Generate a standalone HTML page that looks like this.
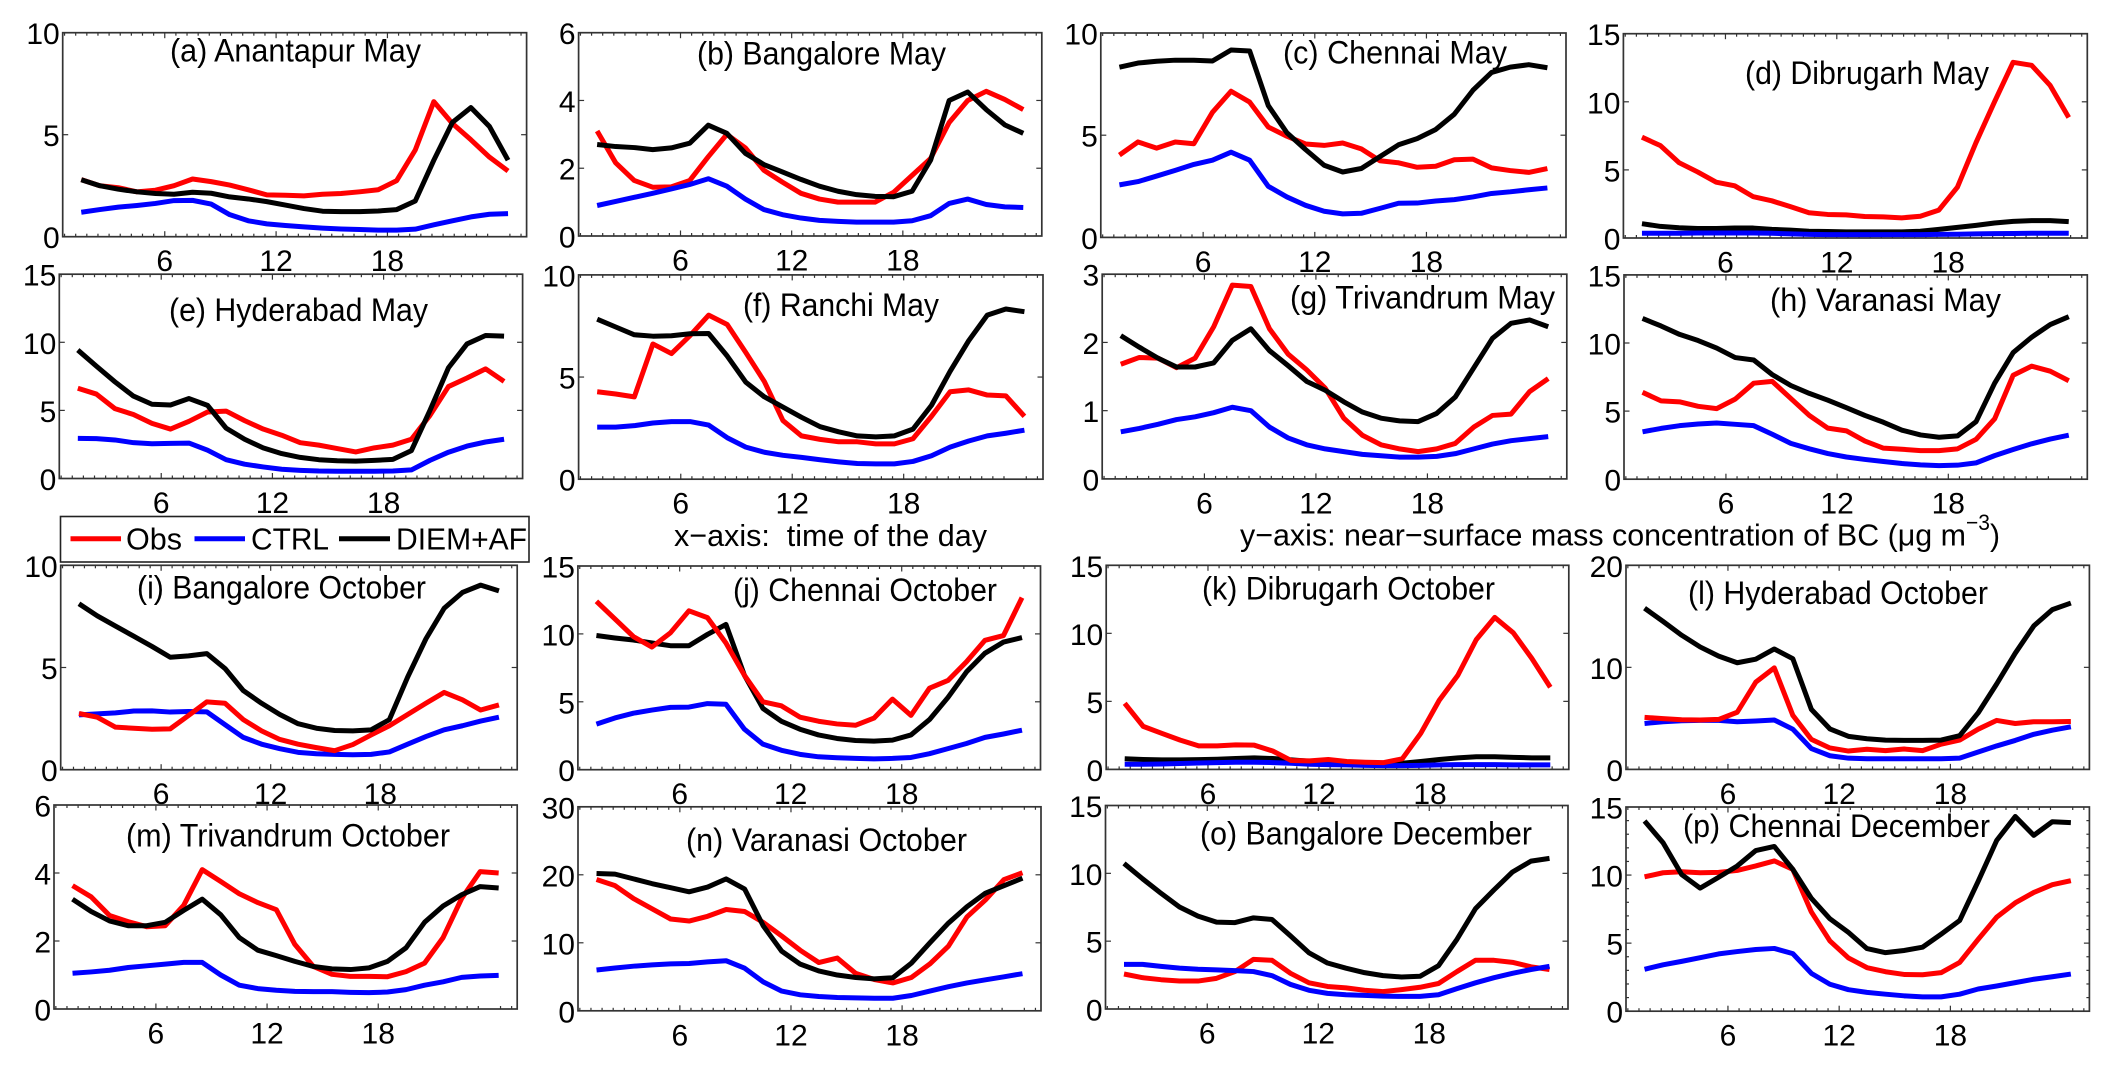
<!DOCTYPE html>
<html lang="en">
<head>
<meta charset="utf-8">
<title>Diurnal BC concentration panels</title>
<style>
html,body{margin:0;padding:0;background:#fff;width:2114px;height:1068px;overflow:hidden}
svg{display:block}
text{font-family:"Liberation Sans",Arial,sans-serif;fill:#000}
.ttl{font-size:32px}
.cap{font-size:31px;white-space:pre}
.tick{font-size:30px}
</style>
</head>
<body>
<svg id="fig" xmlns="http://www.w3.org/2000/svg" width="2114" height="1068" viewBox="0 0 2114 1068">
  <g id="marks"></g>

  <g>
    <text class="ttl" x="170" y="61.3" textLength="251" lengthAdjust="spacingAndGlyphs">(a) Anantapur May</text>
    <text class="ttl" x="697" y="64.7" textLength="249" lengthAdjust="spacingAndGlyphs">(b) Bangalore May</text>
    <text class="ttl" x="1283" y="63.4" textLength="224" lengthAdjust="spacingAndGlyphs">(c) Chennai May</text>
    <text class="ttl" x="1745" y="83.8" textLength="244" lengthAdjust="spacingAndGlyphs">(d) Dibrugarh May</text>
    <text class="ttl" x="169" y="320.8" textLength="259" lengthAdjust="spacingAndGlyphs">(e) Hyderabad May</text>
    <text class="ttl" x="743" y="316" textLength="196" lengthAdjust="spacingAndGlyphs">(f) Ranchi May</text>
    <text class="ttl" x="1290" y="308.6" textLength="265" lengthAdjust="spacingAndGlyphs">(g) Trivandrum May</text>
    <text class="ttl" x="1770" y="311" textLength="231" lengthAdjust="spacingAndGlyphs">(h) Varanasi May</text>
    <text class="ttl" x="137" y="598.7" textLength="289" lengthAdjust="spacingAndGlyphs">(i) Bangalore October</text>
    <text class="ttl" x="733" y="601" textLength="264" lengthAdjust="spacingAndGlyphs">(j) Chennai October</text>
    <text class="ttl" x="1202" y="599.7" textLength="293" lengthAdjust="spacingAndGlyphs">(k) Dibrugarh October</text>
    <text class="ttl" x="1688" y="603.8" textLength="300" lengthAdjust="spacingAndGlyphs">(l) Hyderabad October</text>
    <text class="ttl" x="126" y="846.3" textLength="324" lengthAdjust="spacingAndGlyphs">(m) Trivandrum October</text>
    <text class="ttl" x="686" y="850.8" textLength="281" lengthAdjust="spacingAndGlyphs">(n) Varanasi October</text>
    <text class="ttl" x="1200" y="844.6" textLength="332" lengthAdjust="spacingAndGlyphs">(o) Bangalore December</text>
    <text class="ttl" x="1683" y="837" textLength="307" lengthAdjust="spacingAndGlyphs">(p) Chennai December</text>
  </g>

  <g>
    <rect x="60.5" y="516.5" width="468.5" height="45.5" fill="#fff" stroke="#222" stroke-width="1.6"/>
    <line x1="70.5" x2="121" y1="538.7" y2="538.7" stroke="#ff0000" stroke-width="5"/>
    <text class="cap" x="126" y="549.3" textLength="56" lengthAdjust="spacingAndGlyphs">Obs</text>
    <line x1="194.5" x2="245" y1="538.7" y2="538.7" stroke="#0000ff" stroke-width="5"/>
    <text class="cap" x="251" y="549.3" textLength="78" lengthAdjust="spacingAndGlyphs">CTRL</text>
    <line x1="339" x2="390" y1="538.7" y2="538.7" stroke="#000000" stroke-width="5"/>
    <text class="cap" x="396" y="549.3" textLength="131" lengthAdjust="spacingAndGlyphs">DIEM+AF</text>
  </g>

  <text class="cap" x="674" y="546" textLength="313" lengthAdjust="spacingAndGlyphs">x−axis:  time of the day</text>
  <g>
    <text class="cap" x="1240" y="545.7" textLength="726" lengthAdjust="spacingAndGlyphs">y−axis: near−surface mass concentration of BC (μg m</text>
    <text x="1966" y="530" font-size="22" textLength="24" lengthAdjust="spacingAndGlyphs">−3</text>
    <text class="cap" x="1990" y="545.7" textLength="10" lengthAdjust="spacingAndGlyphs">)</text>
  </g>
</svg>

<script>
// ---- shared categories and tick labels ----
const hours = [1.5,2.5,3.5,4.5,5.5,6.5,7.5,8.5,9.5,10.5,11.5,12.5,13.5,14.5,15.5,16.5,17.5,18.5,19.5,20.5,21.5,22.5,23.5,24.5];
const xTickLabels = [6,12,18];

// ---- y tick labels per panel ----
const yTicksA = [0,5,10];
const yTicksB = [0,2,4,6];
const yTicksC = [0,5,10];
const yTicksD = [0,5,10,15];
const yTicksE = [0,5,10,15];
const yTicksF = [0,5,10];
const yTicksG = [0,1,2,3];
const yTicksH = [0,5,10,15];
const yTicksI = [0,5,10];
const yTicksJ = [0,5,10,15];
const yTicksK = [0,5,10,15];
const yTicksL = [0,10,20];
const yTicksM = [0,2,4,6];
const yTicksN = [0,10,20,30];
const yTicksO = [0,5,10,15];
const yTicksP = [0,5,10,15];

// ---- series values ----
const obsA = [2.8,2.5,2.4,2.2,2.28,2.5,2.83,2.7,2.53,2.3,2.05,2.03,2.0,2.08,2.12,2.2,2.3,2.75,4.25,6.62,5.55,4.75,3.9,3.22];
const ctrlA = [1.2,1.33,1.45,1.53,1.63,1.77,1.78,1.6,1.08,.78,.63,.55,.48,.42,.38,.35,.32,.32,.37,.58,.78,.97,1.1,1.13];
const diemA = [2.79,2.5,2.33,2.2,2.12,2.08,2.18,2.13,1.95,1.85,1.72,1.55,1.38,1.25,1.23,1.23,1.26,1.33,1.75,3.75,5.6,6.33,5.4,3.75];

const obsB = [3.1,2.16,1.64,1.44,1.45,1.64,2.34,3.0,2.6,1.94,1.59,1.26,1.09,1.0,1.0,1.0,1.29,1.79,2.29,3.35,4.0,4.27,4.03,3.73];
const ctrlB = [.9,1.02,1.14,1.26,1.39,1.52,1.69,1.47,1.09,.78,.63,.53,.46,.43,.41,.41,.41,.45,.6,.96,1.09,.93,.86,.84];
const diemB = [2.7,2.64,2.61,2.55,2.6,2.74,3.27,3.03,2.44,2.11,1.89,1.67,1.47,1.32,1.22,1.17,1.16,1.32,2.24,4.0,4.25,3.73,3.28,3.03];

const obsC = [4.03,4.67,4.37,4.67,4.58,6.12,7.15,6.62,5.4,4.95,4.57,4.5,4.62,4.33,3.75,3.65,3.43,3.48,3.8,3.83,3.4,3.27,3.18,3.37];
const ctrlC = [2.57,2.73,3.0,3.28,3.57,3.78,4.17,3.78,2.5,1.98,1.57,1.28,1.15,1.18,1.42,1.67,1.68,1.78,1.85,1.98,2.15,2.23,2.33,2.42];
const diemC = [8.33,8.53,8.62,8.67,8.67,8.63,9.17,9.12,6.45,5.12,4.3,3.53,3.2,3.37,3.95,4.53,4.83,5.28,6.03,7.2,8.07,8.33,8.45,8.3];

const obsD = [7.4,6.78,5.53,4.85,4.1,3.83,3.03,2.73,2.3,1.85,1.73,1.7,1.58,1.55,1.48,1.6,2.05,3.73,7,10,12.9,12.68,11.2,8.85];
const ctrlD = [.35,.35,.35,.37,.37,.37,.37,.35,.3,.27,.25,.25,.25,.25,.25,.25,.27,.28,.3,.32,.33,.35,.35,.35];
const diemD = [1.05,.85,.75,.7,.7,.73,.73,.63,.58,.5,.48,.45,.45,.45,.45,.5,.63,.78,.93,1.1,1.22,1.28,1.28,1.2];

const obsE = [6.63,6.2,5.13,4.7,4.05,3.63,4.2,4.88,4.95,4.25,3.63,3.18,2.63,2.45,2.2,1.95,2.25,2.45,2.88,4.63,6.75,7.38,8.05,7.13];
const ctrlE = [2.95,2.93,2.83,2.63,2.55,2.58,2.6,2.08,1.38,1.05,.85,.68,.6,.55,.53,.53,.53,.55,.63,1.33,1.93,2.38,2.68,2.88];
const diemE = [9.43,8.25,7.1,6.05,5.45,5.4,5.87,5.37,3.7,2.88,2.25,1.83,1.55,1.38,1.3,1.28,1.33,1.4,2.05,5.0,8.13,9.88,10.5,10.45];

const obsF = [4.28,4.17,4.03,6.62,6.15,7.03,8.03,7.57,6.2,4.78,2.87,2.12,1.95,1.83,1.83,1.73,1.73,1.98,3.08,4.28,4.37,4.12,4.08,3.08];
const ctrlF = [2.55,2.55,2.62,2.75,2.82,2.82,2.65,2.03,1.57,1.32,1.17,1.07,.95,.85,.77,.75,.75,.87,1.15,1.57,1.87,2.12,2.25,2.4];
const diemF = [7.83,7.45,7.07,7.0,7.02,7.12,7.13,6.03,4.75,4.03,3.53,3.03,2.57,2.32,2.12,2.07,2.12,2.45,3.62,5.28,6.78,8.03,8.33,8.2];

const obsG = [1.68,1.78,1.77,1.63,1.77,2.23,2.84,2.82,2.2,1.83,1.6,1.33,.89,.64,.5,.44,.4,.44,.52,.76,.93,.95,1.28,1.47];
const ctrlG = [.69,.74,.8,.87,.91,.97,1.05,1.0,.76,.6,.5,.44,.4,.36,.34,.32,.32,.33,.37,.44,.51,.56,.59,.62];
const diemG = [2.1,1.93,1.77,1.64,1.64,1.7,2.03,2.2,1.88,1.66,1.43,1.3,1.13,.98,.89,.85,.84,.96,1.2,1.63,2.06,2.28,2.33,2.23];

const obsH = [6.38,5.75,5.68,5.35,5.18,5.88,7.05,7.18,5.93,4.68,3.75,3.55,2.8,2.28,2.2,2.1,2.1,2.23,2.93,4.43,7.63,8.3,7.93,7.23];
const ctrlH = [3.48,3.73,3.93,4.05,4.13,4.03,3.93,3.3,2.63,2.23,1.88,1.63,1.45,1.3,1.15,1.05,1,1.03,1.2,1.73,2.18,2.6,2.95,3.23];
const diemH = [11.8,11.25,10.63,10.18,9.63,8.93,8.75,7.68,6.88,6.3,5.8,5.25,4.68,4.18,3.6,3.25,3.08,3.18,4.23,7.05,9.3,10.43,11.35,11.93];

const obsI = [2.75,2.57,2.08,2.03,1.98,2.0,2.65,3.32,3.25,2.45,1.9,1.48,1.25,1.08,.93,1.23,1.7,2.15,2.7,3.25,3.78,3.42,2.92,3.17];
const ctrlI = [2.68,2.73,2.78,2.87,2.88,2.82,2.85,2.83,2.2,1.58,1.25,1.03,.85,.78,.75,.73,.75,.87,1.25,1.62,1.95,2.15,2.38,2.57];
const diemI = [8.12,7.53,7.03,6.53,6.03,5.5,5.57,5.68,4.95,3.87,3.25,2.7,2.25,2.03,1.92,1.9,1.95,2.45,4.53,6.4,7.9,8.67,9.03,8.75];

const obsJ = [12.4,11.1,9.8,9.03,10.08,11.7,11.2,9.33,6.95,5.0,4.7,3.87,3.57,3.37,3.27,3.8,5.2,4.0,6.0,6.57,7.95,9.53,9.88,12.67];
const ctrlJ = [3.36,3.81,4.16,4.39,4.59,4.61,4.87,4.82,2.98,1.88,1.43,1.13,.95,.88,.83,.8,.83,.9,1.18,1.55,1.93,2.38,2.63,2.91];
const diemJ = [9.88,9.7,9.55,9.33,9.13,9.13,9.96,10.7,6.95,4.51,3.56,2.98,2.56,2.3,2.15,2.1,2.18,2.56,3.69,5.32,7.2,8.58,9.4,9.73];

const obsK = [4.86,3.16,2.65,2.15,1.73,1.73,1.8,1.78,1.35,.65,.63,.73,.58,.53,.5,.78,2.65,5.08,6.91,9.54,11.17,10.04,8.16,6.04];
const ctrlK = [.38,.38,.4,.43,.47,.5,.53,.53,.5,.45,.38,.35,.33,.3,.28,.28,.3,.33,.35,.35,.35,.33,.33,.33];
const diemK = [.78,.73,.7,.7,.72,.75,.8,.85,.8,.7,.6,.55,.5,.45,.4,.45,.58,.73,.85,.93,.93,.88,.85,.85];

const obsL = [5.1,4.97,4.87,4.84,4.9,5.6,8.55,9.95,5.3,2.94,2.1,1.8,1.97,1.84,2,1.84,2.47,2.87,3.94,4.8,4.5,4.67,4.67,4.7];
const ctrlL = [4.5,4.67,4.77,4.8,4.8,4.67,4.74,4.84,3.94,2.04,1.34,1.1,1.04,1.04,1.04,1.04,1.04,1.1,1.7,2.3,2.84,3.44,3.84,4.17];
const diemL = [15.8,14.5,13.15,12,11.1,10.45,10.8,11.8,10.85,5.88,3.97,3.24,3,2.87,2.84,2.84,2.87,3.3,5.54,8.38,11.39,14.06,15.66,16.3];

const obsM = [3.63,3.3,2.75,2.57,2.42,2.45,3.05,4.1,3.75,3.39,3.13,2.92,1.9,1.25,1.02,.96,.96,.95,1.1,1.35,2.1,3.25,4.04,4.0];
const ctrlM = [1.05,1.09,1.14,1.22,1.27,1.32,1.37,1.37,1.0,.7,.6,.55,.52,.51,.51,.49,.48,.5,.57,.7,.8,.93,.97,.99];
const diemM = [3.23,2.87,2.59,2.45,2.45,2.55,2.9,3.23,2.77,2.1,1.73,1.57,1.4,1.25,1.18,1.16,1.21,1.4,1.8,2.55,3.03,3.36,3.6,3.56];

const obsN = [19.3,18.4,16.5,15,13.5,13.2,13.9,14.9,14.6,13,11,8.9,7.1,7.76,5.5,4.6,4.1,4.9,6.9,9.5,13.8,16.3,19.3,20.3];
const ctrlN = [6,6.3,6.56,6.76,6.9,6.96,7.2,7.36,6.26,4.26,2.9,2.35,2.1,1.95,1.9,1.85,1.85,2.25,2.9,3.55,4.1,4.56,5,5.46];
const diemN = [20.2,20.1,19.4,18.7,18.1,17.5,18.2,19.4,17.9,12.5,8.76,6.86,5.86,5.26,4.9,4.7,4.86,7,10,12.9,15.3,17.3,18.4,19.5];

const obsO = [2.58,2.31,2.16,2.06,2.06,2.26,2.76,3.66,3.59,2.63,1.93,1.66,1.56,1.38,1.28,1.43,1.6,1.88,2.76,3.59,3.59,3.44,3.11,2.91];
const ctrlO = [3.29,3.29,3.14,3.01,2.93,2.88,2.83,2.76,2.46,1.81,1.38,1.15,1.05,1,.95,.93,.93,1.05,1.5,1.93,2.31,2.63,2.91,3.14];
const diemO = [10.73,9.6,8.53,7.52,6.85,6.4,6.37,6.72,6.6,5.39,4.14,3.39,3.01,2.68,2.46,2.36,2.41,3.19,5.14,7.4,8.78,10.1,10.9,11.1];

const obsP = [9.87,10.17,10.24,10.17,10.2,10.34,10.67,11.04,10.42,7.29,5.16,3.91,3.2,2.9,2.7,2.68,2.83,3.58,5.28,6.91,7.96,8.72,9.29,9.59];
const ctrlP = [3.08,3.41,3.66,3.93,4.21,4.38,4.53,4.61,4.23,2.78,1.98,1.58,1.38,1.25,1.13,1.05,1.05,1.25,1.63,1.85,2.1,2.35,2.53,2.73];
const diemP = [13.97,12.37,10.04,9.04,9.84,10.67,11.8,12.1,10.42,8.29,6.79,5.79,4.6,4.3,4.46,4.7,5.66,6.66,9.54,12.55,14.3,12.92,13.92,13.85];

// ---- panel wiring: each panel's frame rectangle plus references to its data ----
const standardOrder = ['obs','ctrl','diem'];
const obsOnTopOrder = ['diem','ctrl','obs'];
const ctrlUnderOrder = ['ctrl','obs','diem'];
const panels = [
  {id:'a',L:62.7,R:526.6,T:32.7,B:236.7,yt:yTicksA,obs:obsA,ctrl:ctrlA,diem:diemA,order:standardOrder},
  {id:'b',L:578.6,R:1041.8,T:32.7,B:236,yt:yTicksB,obs:obsB,ctrl:ctrlB,diem:diemB,order:standardOrder},
  {id:'c',L:1100.8,R:1566,T:33,B:237.4,yt:yTicksC,obs:obsC,ctrl:ctrlC,diem:diemC,order:standardOrder},
  {id:'d',L:1623.4,R:2087.3,T:33.7,B:238,yt:yTicksD,obs:obsD,ctrl:ctrlD,diem:diemD,order:obsOnTopOrder},
  {id:'e',L:59.3,R:522.6,T:274.2,B:478.5,yt:yTicksE,obs:obsE,ctrl:ctrlE,diem:diemE,order:standardOrder},
  {id:'f',L:578.6,R:1043,T:274.9,B:479.2,yt:yTicksF,obs:obsF,ctrl:ctrlF,diem:diemF,order:standardOrder},
  {id:'g',L:1102.2,R:1566.8,T:274.2,B:478.9,yt:yTicksG,obs:obsG,ctrl:ctrlG,diem:diemG,order:standardOrder},
  {id:'h',L:1624,R:2087.3,T:274.9,B:479.2,yt:yTicksH,obs:obsH,ctrl:ctrlH,diem:diemH,order:standardOrder},
  {id:'i',L:60.7,R:517.2,T:565.3,B:769.7,yt:yTicksI,obs:obsI,ctrl:ctrlI,diem:diemI,order:ctrlUnderOrder},
  {id:'j',L:577.9,R:1040.5,T:566,B:769.7,yt:yTicksJ,obs:obsJ,ctrl:ctrlJ,diem:diemJ,order:obsOnTopOrder},
  {id:'k',L:1106.2,R:1568.8,T:565.3,B:769.4,yt:yTicksK,obs:obsK,ctrl:ctrlK,diem:diemK,order:obsOnTopOrder},
  {id:'l',L:1626,R:2089.4,T:565.3,B:769.4,yt:yTicksL,obs:obsL,ctrl:ctrlL,diem:diemL,order:ctrlUnderOrder},
  {id:'m',L:54,R:517.2,T:805,B:1009,yt:yTicksM,obs:obsM,ctrl:ctrlM,diem:diemM,order:standardOrder},
  {id:'n',L:578,R:1041,T:806.8,B:1010.8,yt:yTicksN,obs:obsN,ctrl:ctrlN,diem:diemN,order:standardOrder},
  {id:'o',L:1105.5,R:1568,T:805.5,B:1009,yt:yTicksO,obs:obsO,ctrl:ctrlO,diem:diemO,order:standardOrder},
  {id:'p',L:1626,R:2089.4,T:807,B:1011.2,yt:yTicksP,obs:obsP,ctrl:ctrlP,diem:diemP,order:standardOrder,yMinorStep:1}
];

const seriesColor = {obs:'#ff0000',ctrl:'#0000ff',diem:'#000000'};
const xMin = 0.5, xMax = 25.5, xMinorStep = 0.6;
const NS = 'http://www.w3.org/2000/svg';
const root = document.getElementById('marks');

function make(tag, parent) {
  const el = document.createElementNS(NS, tag);
  parent.appendChild(el);
  return el;
}

function tickMark(parent, name, x1, y1, x2, y2) {
  const t = make('line', parent);
  t.setAttribute('x1', x1);
  t.setAttribute('y1', y1);
  t.setAttribute('x2', x2);
  t.setAttribute('y2', y2);
  t.setAttribute('stroke', '#333');
  t.setAttribute('stroke-width', '1.2');
  
  
}

function tickText(parent, name, x, y, anchor, label) {
  const t = make('text', parent);
  t.setAttribute('class', 'tick');
  t.setAttribute('x', x);
  t.setAttribute('y', y);
  t.setAttribute('text-anchor', anchor);
  t.textContent = label;
  
  
}

function drawPanel(p) {
  const yMax = p.yt[p.yt.length - 1];
  const sx = h => p.L + (h - xMin) / (xMax - xMin) * (p.R - p.L);
  const sy = v => p.B - v / yMax * (p.B - p.T);

  const g = make('g', root);
  
  

  const frame = make('rect', g);
  frame.setAttribute('x', p.L);
  frame.setAttribute('y', p.T);
  frame.setAttribute('width', p.R - p.L);
  frame.setAttribute('height', p.B - p.T);
  frame.setAttribute('fill', '#fff');
  frame.setAttribute('stroke', '#333');
  frame.setAttribute('stroke-width', '1.7');
  
  

  // x minor ticks on top and bottom edges
  const first = xTickLabels[0];
  for (let k = Math.ceil((xMin - first) / xMinorStep); first + k * xMinorStep < xMax; k++) {
    const h = first + k * xMinorStep;
    if (k % 10 === 0) continue;
    tickMark(g, 'x-minor-tick', sx(h), p.B, sx(h), p.B - 3);
    tickMark(g, 'x-minor-tick', sx(h), p.T, sx(h), p.T + 3);
  }
  // x major ticks + labels
  xTickLabels.forEach(h => {
    tickMark(g, 'x-tick', sx(h), p.B, sx(h), p.B - 5.5);
    tickMark(g, 'x-tick', sx(h), p.T, sx(h), p.T + 5.5);
    tickText(g, 'x-tick-label', sx(h), p.B + 34.5, 'middle', h);
  });
  // y major ticks + labels
  p.yt.forEach(v => {
    if (v > 0 && v < yMax) {
      tickMark(g, 'y-tick', p.L, sy(v), p.L + 5.5, sy(v));
      tickMark(g, 'y-tick', p.R, sy(v), p.R - 5.5, sy(v));
    }
    tickText(g, 'y-tick-label', p.L - 3, sy(v) + 11.5, 'end', v);
  });
  // optional y minor ticks
  if (p.yMinorStep) {
    for (let v = p.yMinorStep; v < yMax; v += p.yMinorStep) {
      if (p.yt.indexOf(v) >= 0) continue;
      tickMark(g, 'y-minor-tick', p.L, sy(v), p.L + 3, sy(v));
      tickMark(g, 'y-minor-tick', p.R, sy(v), p.R - 3, sy(v));
    }
  }
  // series
  p.order.forEach(key => {
    const line = make('polyline', g);
    line.setAttribute('points', p[key].map((v, i) => sx(hours[i]).toFixed(2) + ',' + sy(v).toFixed(2)).join(' '));
    line.setAttribute('fill', 'none');
    line.setAttribute('stroke', seriesColor[key]);
    line.setAttribute('stroke-width', '5');
    line.setAttribute('stroke-linejoin', 'round');
    
    
  });
}

panels.forEach(drawPanel);
</script>
</body>
</html>
